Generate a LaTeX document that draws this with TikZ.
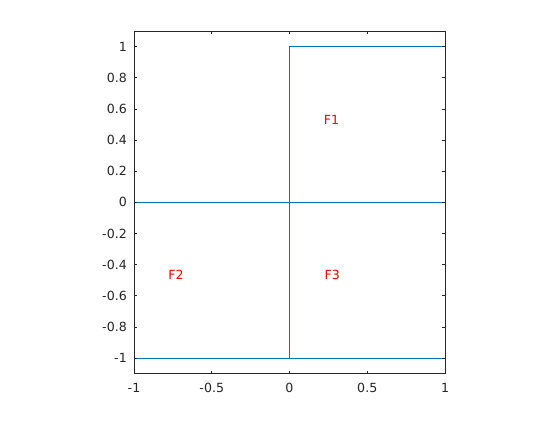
\documentclass[tikz,border=0pt]{standalone}
\usepackage{fontspec}
\setmainfont{DejaVu Sans}
\definecolor{lineblue}{rgb}{0,0.447,0.741}
\definecolor{axisgray}{rgb}{0.15,0.15,0.15}

\begin{document}
\begin{tikzpicture}[x=155.5pt,y=155.8pt,
  edge/.style={draw=lineblue, line width=0.8pt},
  tickmark/.style={draw=axisgray, line width=0.6pt},
  ticklbl/.style={font=\fontsize{12.6}{15}\selectfont, text=axisgray, inner sep=0pt},
  region/.style={font=\fontsize{12.6}{15}\selectfont, text=red, anchor=west, inner sep=0pt}]
\useasboundingbox (-1.8617,-1.3973) rectangle (1.7395,1.2984);
% mesh edges
\draw[edge] (-1,-1) -- (1,-1);
\draw[edge] (-1,0) -- (1,0);
\draw[edge] (-1,-1) -- (-1,0);
\draw[edge] (0,-1) -- (0,1) -- (1,1) -- (1,-1);
% axes box
\draw[tickmark] (-1,-1.1) rectangle (1,1.1);
\foreach \x/\lbl [count=\i] in {-1/-1,-0.5/-0.5,0/0,0.5/0.5,1/1} {
  \draw[tickmark] (\x,-1.1) -- ++(0,3pt) (\x,1.1) -- ++(0,-3pt);
  \node[ticklbl, anchor=north] (xtick\i) at ([yshift=-9.5pt]\x,-1.1) {\lbl};
}
\foreach \y/\lbl [count=\i] in {-1/-1,-0.8/-0.8,-0.6/-0.6,-0.4/-0.4,-0.2/-0.2,0/0,
  0.2/0.2,0.4/0.4,0.6/0.6,0.8/0.8,1/1} {
  \draw[tickmark] (-1,\y) -- ++(3pt,0) (1,\y) -- ++(-3pt,0);
  \node[ticklbl, anchor=east] (ytick\i) at ([xshift=-7pt]-1,\y) {\lbl};
}
% face labels
\node[region] (f1) at (0.22,0.53) {F1};
\node[region] (f2) at (-0.78,-0.466) {F2};
\node[region] (f3) at (0.224,-0.466) {F3};
\end{tikzpicture}
\end{document}
